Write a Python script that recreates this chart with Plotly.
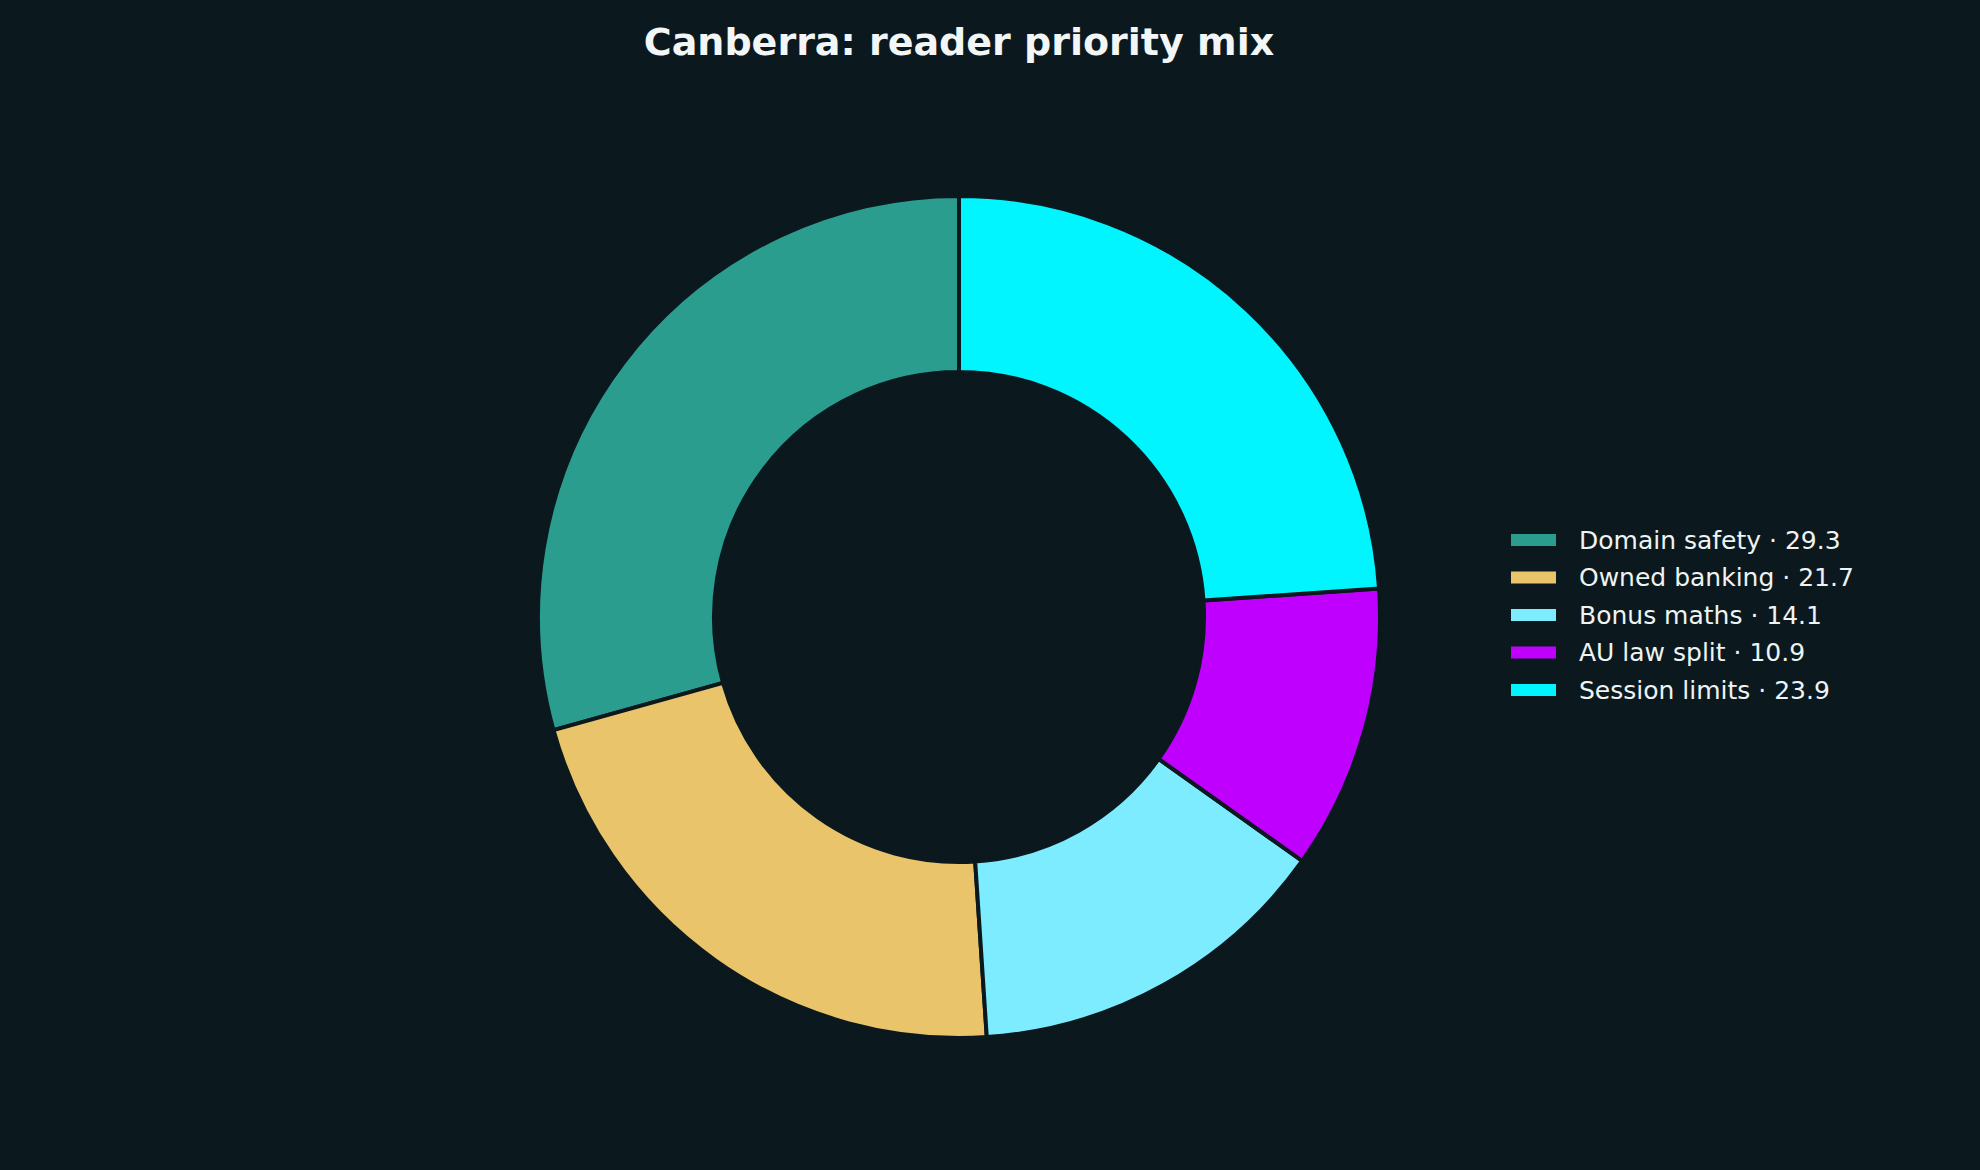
import plotly.graph_objects as go

categories = ["Domain safety", "Owned banking", "Bonus maths", "AU law split", "Session limits"]
values = [29.3, 21.7, 14.1, 10.9, 23.9]
colors = ["#2a9d8f", "#e9c46a", "#7eecff", "#bf00ff", "#00f5ff"]
title_text = "Canberra: reader priority mix"

BG = "#0b191e"
TEXT = "#eef3f3"
W, H = 1980, 1170
M_L, M_R, M_T, M_B = 0, 62, 196, 132
PW, PH = W - M_L - M_R, H - M_T - M_B

labels = [f"{c} \u00b7 {v:.1f}" for c, v in zip(categories, values)]

# plotly's counterclockwise mode places the first slice clockwise of the
# rotation angle; shift so the first slice starts at 12 o'clock going left
start_rotation = -values[0] / sum(values) * 360

fig = go.Figure(
    go.Pie(
        labels=labels,
        values=values,
        hole=0.582,
        sort=False,
        direction="counterclockwise",
        rotation=start_rotation,
        marker=dict(colors=colors, line=dict(color=BG, width=4)),
        textinfo="none",
        hoverinfo="label+percent",
        showlegend=False,
    )
)


def px_x(x):
    return (x - M_L) / PW


def px_y(y):
    return (H - M_B - y) / PH


# legend drawn as wide colour bars with text labels (matching the reference)
LEG_SW_X0, LEG_SW_X1 = 1511, 1556
LEG_TEXT_X = 1577
LEG_Y0, LEG_DY, LEG_SW_H = 540, 37.5, 12
shapes = []
annotations = []
for i, (lab, col) in enumerate(zip(labels, colors)):
    cy = LEG_Y0 + i * LEG_DY
    shapes.append(
        dict(
            type="rect",
            xref="paper",
            yref="paper",
            x0=px_x(LEG_SW_X0),
            x1=px_x(LEG_SW_X1),
            y0=px_y(cy + LEG_SW_H / 2),
            y1=px_y(cy - LEG_SW_H / 2),
            fillcolor=col,
            line=dict(width=0),
            layer="above",
        )
    )
    annotations.append(
        dict(
            text=lab,
            xref="paper",
            yref="paper",
            x=px_x(LEG_TEXT_X),
            y=px_y(cy),
            xanchor="left",
            yanchor="middle",
            showarrow=False,
            font=dict(family="DejaVu Sans", size=25, color=TEXT),
        )
    )

fig.update_layout(
    width=W,
    height=H,
    paper_bgcolor=BG,
    plot_bgcolor=BG,
    margin=dict(l=M_L, r=M_R, t=M_T, b=M_B),
    font=dict(family="DejaVu Sans", color=TEXT),
    title=dict(
        text=title_text,
        x=0.5,
        xanchor="center",
        xref="paper",
        y=1 - 42 / H,
        yref="container",
        yanchor="middle",
        font=dict(family="DejaVu Sans", size=38, color="#f2f6f6", weight="bold"),
    ),
    shapes=shapes,
    annotations=annotations,
    showlegend=False,
)

fig.write_html(
    "out.html",
    config={"displayModeBar": False},
    post_script="document.body.style.margin='0';document.body.style.background='" + BG + "';",
)
